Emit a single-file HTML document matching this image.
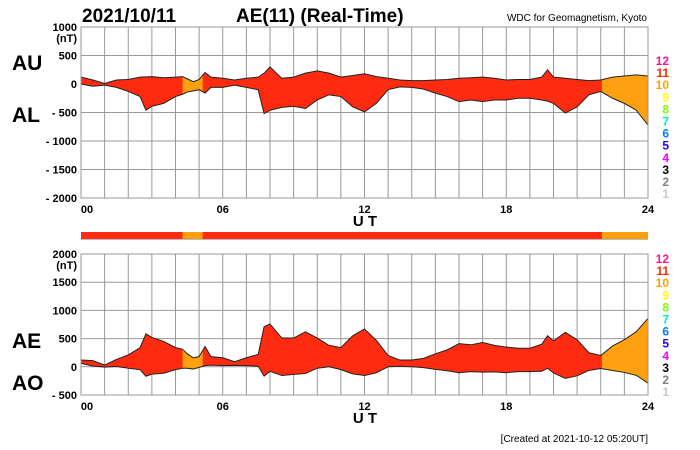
<!DOCTYPE html>
<html><head><meta charset="utf-8">
<style>
body{margin:0;background:#fff;width:700px;height:450px;overflow:hidden}
svg{display:block;font-family:"Liberation Sans",Arial,sans-serif}
</style></head>
<body>
<svg id="c" width="700" height="450"></svg>
<script>
const hours=[0,0.5,1,1.5,2,2.5,2.75,3,3.5,4,4.3,4.5,4.75,5,5.25,5.5,6,6.5,7,7.5,7.75,8,8.5,9,9.5,10,10.5,11,11.5,12,12.5,13,13.5,14,14.5,15,15.5,16,16.5,17,17.5,18,18.5,19,19.5,19.75,20,20.5,21,21.5,22,22.5,23,23.5,24];
const auValues=[120,70,10,70,80,120,125,130,110,120,130,90,40,80,200,120,100,70,100,120,190,300,100,120,190,230,190,120,150,180,130,100,70,60,60,70,80,100,110,120,100,70,80,80,120,250,120,100,80,60,70,120,140,160,140];
const alValues=[0,-40,-20,-60,-130,-220,-460,-390,-340,-220,-180,-140,-120,-100,-160,-60,-60,-20,-60,-100,-520,-460,-410,-390,-430,-280,-190,-220,-400,-490,-340,-100,-50,-60,-90,-160,-220,-310,-280,-310,-280,-280,-250,-250,-280,-300,-340,-510,-400,-190,-130,-250,-340,-460,-720];
const segStart=[4.3,22.05];
const segEnd=[5.15,24];
const topTicks=[1000,500,0,-500,-1000,-1500,-2000];
const botTicks=[2000,1500,1000,500,0,-500];
const xTickLabels=["00","06","12","18","24"];
const classLabels=["12","11","10","9","8","7","6","5","4","3","2","1"];
const classColors=["#ff1493","#ff2a00","#ffa000","#ffff00","#80ff00","#00f0c0","#0080ff","#2000ff","#ff00ff","#000000","#808080","#c8c8c8"];

const NS="http://www.w3.org/2000/svg";
const svg=document.getElementById('c');
function mk(tag,attrs,parent){const e=document.createElementNS(NS,tag);for(const k in attrs)e.setAttribute(k,attrs[k]);(parent||svg).appendChild(e);return e;}
const X0=81,X1=648;
const xs=h=>X0+(X1-X0)*h/24;
function panel(name,top,bot,vmax,vmin,upper,lower,ticks,labA,labB,labAy,labBy,classY){
  const ys=v=>top+(vmax-v)/(vmax-vmin)*(bot-top);
  const g=mk('g',{});
  
  
  // grid
  for(let h=0;h<=24;h++){const l=mk('line',{x1:xs(h),x2:xs(h),y1:top,y2:bot,stroke:'#999','stroke-width':1},g);}
  ticks.forEach(v=>{const l=mk('line',{x1:X0,x2:X1,y1:ys(v),y2:ys(v),stroke:'#999','stroke-width':1},g);
    const t=mk('text',{x:77,y:ys(v)+4,'text-anchor':'end','font-size':11,'font-weight':'bold'},g);t.textContent=(v<0?'- '+(-v):v);});
  const u=mk('text',{x:77,y:ys(ticks[0])+15,'text-anchor':'end','font-size':11,'font-weight':'bold'},g);u.textContent='(nT)';
  
  // area
  let pts=[];hours.forEach((h,i)=>pts.push(xs(h)+','+ys(upper[i])));
  for(let i=hours.length-1;i>=0;i--)pts.push(xs(hours[i])+','+ys(lower[i]));
  const poly=pts.join(' ');
  const p=mk('polygon',{points:poly,fill:'#ff2b10'},g);
  segStart.forEach((s,i)=>{const id=name+'clip'+i;const cp=mk('clipPath',{id:id},g);mk('rect',{x:xs(s),y:top,width:xs(segEnd[i])-xs(s),height:bot-top},cp);
    const q=mk('polygon',{points:poly,fill:'#ffa010','clip-path':'url(#'+id+')'},g);});
  const up=mk('polyline',{points:hours.map((h,i)=>xs(h)+','+ys(upper[i])).join(' '),fill:'none',stroke:'#222','stroke-width':1},g);
  const lo=mk('polyline',{points:hours.map((h,i)=>xs(h)+','+ys(lower[i])).join(' '),fill:'none',stroke:'#222','stroke-width':1},g);
  mk('rect',{x:X0,y:top,width:X1-X0,height:bot-top,fill:'none',stroke:'#999'},g);
  xTickLabels.forEach((s,i)=>{const t=mk('text',{x:xs(i*6)+(i==0?6:0),y:bot+15,'text-anchor':'middle','font-size':11,'font-weight':'bold'},g);t.textContent=s;});
  const ut=mk('text',{x:365,y:bot+28,'text-anchor':'middle','font-size':15,'font-weight':'bold'},g);ut.textContent='U T';
  const a=mk('text',{x:12,y:labAy,'font-size':21,'font-weight':'bold'},g);a.textContent=labA;
  const b=mk('text',{x:12,y:labBy,'font-size':21,'font-weight':'bold'},g);b.textContent=labB;
  classLabels.forEach((s,i)=>{const t=mk('text',{x:669,y:classY+i*12.1,'text-anchor':'end','font-size':12,'font-weight':'bold',fill:classColors[i]},g);t.textContent=s;});
}
panel('au-al-panel',27,198,1000,-2000,auValues,alValues,topTicks,'AU','AL',70,122,65);
const ae=auValues.map((u,i)=>u-alValues[i]);
const ao=auValues.map((u,i)=>(u+alValues[i])/2);
panel('ae-ao-panel',254,395,2000,-500,ae,ao,botTicks,'AE','AO',348,390,263);
// color bar
const bar=mk('g',{});


mk('rect',{x:X0,y:232,width:X1-X0,height:7,fill:'#ff2b10'},bar);
segStart.forEach((s,i)=>{mk('rect',{x:xs(s),y:232,width:xs(segEnd[i])-xs(s),height:7,fill:'#ffa010'},bar);});
mk('line',{x1:X0,x2:X1,y1:239.5,y2:239.5,stroke:'#bbb'},bar);
function txt(x,y,s,size,name,anchor,weight){const t=mk('text',{x:x,y:y,'font-size':size,'font-weight':weight||'bold','text-anchor':anchor||'start'});t.textContent=s;}
txt(82,22,'2021/10/11',19,'title-date');
txt(236,22,'AE(11) (Real-Time)',19,'title');
txt(647,21,'WDC for Geomagnetism, Kyoto',10,'source-label','end','normal');
txt(648,442,'[Created at 2021-10-12 05:20UT]',10,'created-timestamp','end','normal');
</script>
</body></html>
